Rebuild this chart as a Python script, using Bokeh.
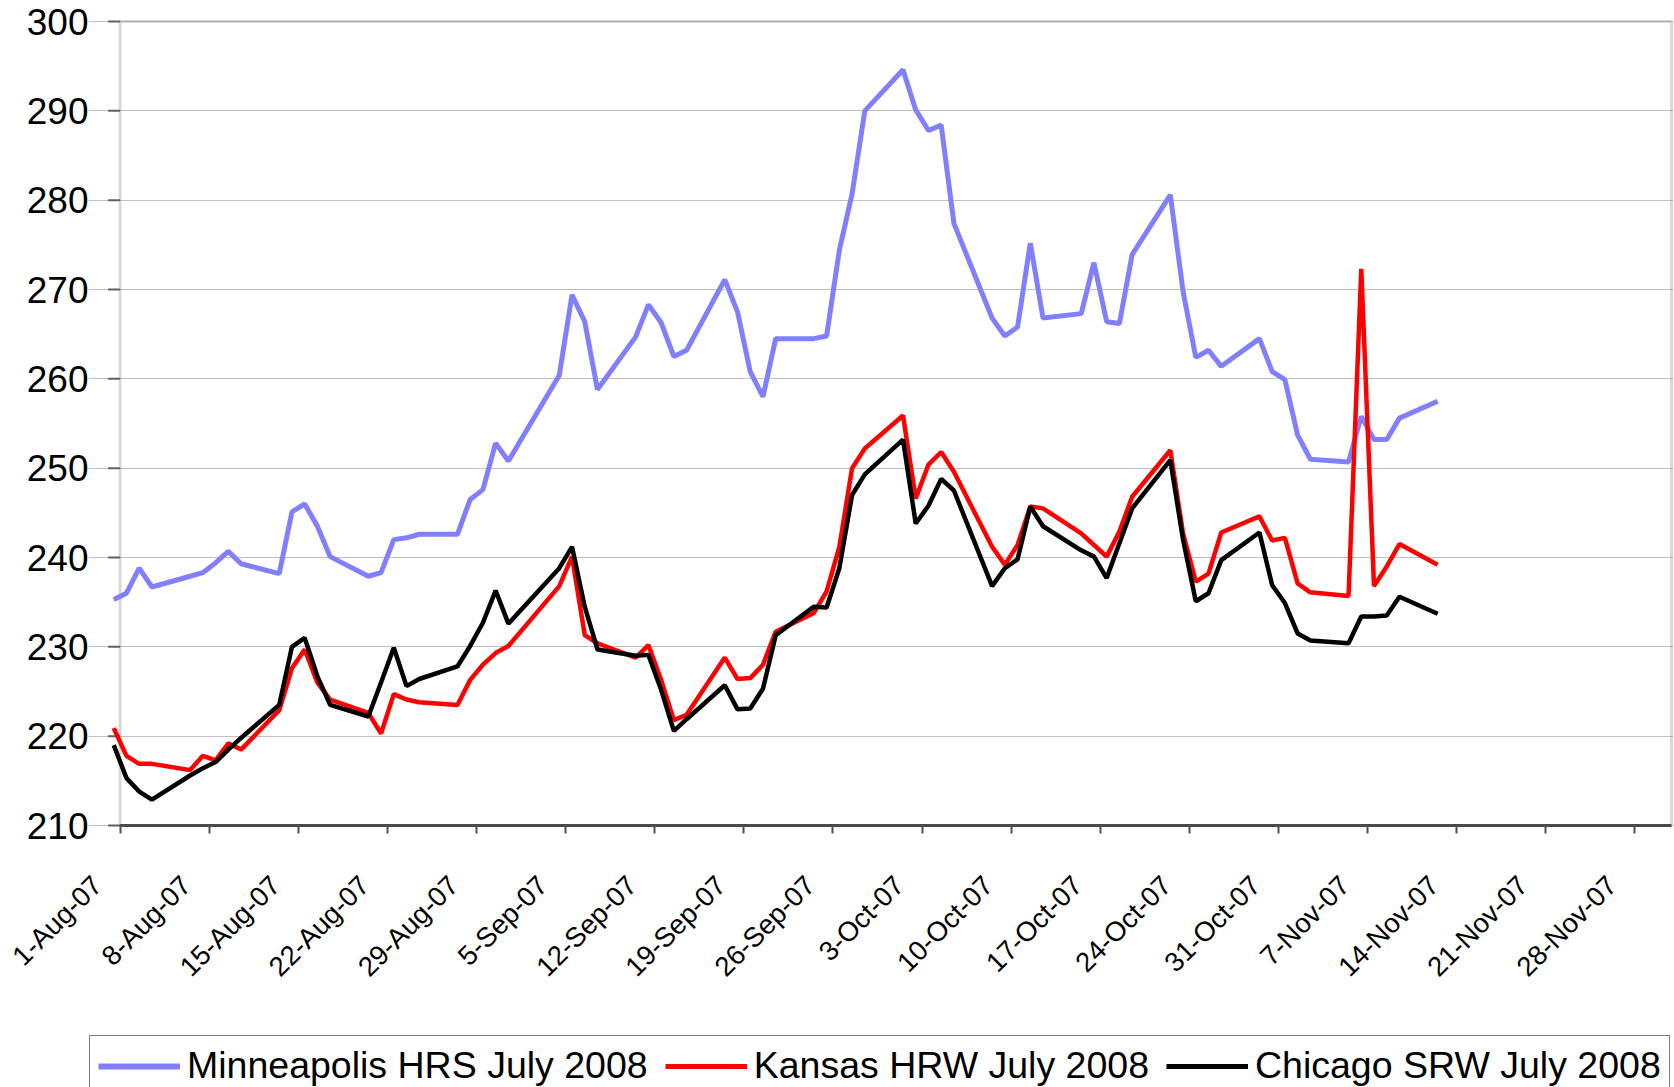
import math
import pandas as pd
from bokeh.plotting import figure
from bokeh.layouts import column
from bokeh.models import (ColumnDataSource, Range1d, FixedTicker, Legend, LegendItem,
                          DatetimeTickFormatter, BoxAnnotation)
from bokeh.embed import file_html
from bokeh.resources import INLINE

# ---------------- data ----------------
dates = [
    "2007-07-31", "2007-08-01", "2007-08-02", "2007-08-03",
    "2007-08-06", "2007-08-07", "2007-08-08", "2007-08-09", "2007-08-10",
    "2007-08-13", "2007-08-14", "2007-08-15", "2007-08-16", "2007-08-17",
    "2007-08-20", "2007-08-21", "2007-08-22", "2007-08-23", "2007-08-24",
    "2007-08-27", "2007-08-28", "2007-08-29", "2007-08-30", "2007-08-31",
    "2007-09-04", "2007-09-05", "2007-09-06", "2007-09-07",
    "2007-09-10", "2007-09-11", "2007-09-12", "2007-09-13", "2007-09-14",
    "2007-09-17", "2007-09-18", "2007-09-19", "2007-09-20", "2007-09-21",
    "2007-09-24", "2007-09-25", "2007-09-26", "2007-09-27", "2007-09-28",
    "2007-10-01", "2007-10-02", "2007-10-03", "2007-10-04", "2007-10-05",
    "2007-10-08", "2007-10-09", "2007-10-10", "2007-10-11", "2007-10-12",
    "2007-10-15", "2007-10-16", "2007-10-17", "2007-10-18", "2007-10-19",
    "2007-10-22", "2007-10-23", "2007-10-24", "2007-10-25", "2007-10-26",
    "2007-10-29", "2007-10-30", "2007-10-31", "2007-11-01", "2007-11-02",
    "2007-11-05", "2007-11-06", "2007-11-07", "2007-11-08", "2007-11-09",
    "2007-11-12",
]

minneapolis = [
    235.3, 236.0, 238.8, 236.7,
    237.9, 238.3, 239.4, 240.7, 239.3,
    238.2, 245.1, 246.0, 243.5, 240.1,
    237.9, 238.3, 242.0, 242.2, 242.6,
    242.6, 246.5, 247.6, 252.8, 250.8,
    260.4, 269.4, 266.4, 258.8,
    264.7, 268.3, 266.3, 262.5, 263.2,
    271.1, 267.5, 260.8, 258.0, 264.5,
    264.5, 264.8, 274.4, 280.7, 290.0,
    294.6, 290.1, 287.8, 288.4, 277.4,
    266.8, 264.8, 265.8, 275.2, 266.8,
    267.3, 273.0, 266.4, 266.2, 273.9,
    280.6, 269.8, 262.4, 263.2, 261.4,
    264.5, 260.8, 259.9, 253.7, 251.0,
    250.7, 255.8, 253.2, 253.2, 255.6,
    257.5,
]

kansas = [
    220.9, 217.8, 216.9, 216.9,
    216.2, 217.8, 217.3, 219.2, 218.5,
    222.9, 227.6, 229.7, 226.0, 224.1,
    222.6, 220.3, 224.7, 224.1, 223.8,
    223.5, 226.3, 228.0, 229.3, 230.1,
    236.8, 240.1, 231.3, 230.4,
    228.8, 230.2, 226.3, 221.8, 222.4,
    228.8, 226.4, 226.5, 228.0, 231.7,
    233.8, 236.2, 241.2, 250.0, 252.2,
    255.9, 246.6, 250.4, 251.8, 249.6,
    241.2, 239.2, 241.4, 245.7, 245.5,
    242.7, 241.4, 240.1, 242.9, 246.8,
    252.0, 242.7, 237.3, 238.2, 242.8,
    244.6, 241.9, 242.2, 237.1, 236.1,
    235.7, 272.3, 236.8, 239.0, 241.5,
    239.2,
]

chicago = [
    219.0, 215.3, 213.8, 212.9,
    215.6, 216.4, 217.1, 218.5, 219.8,
    223.5, 230.0, 231.0, 226.7, 223.5,
    222.2, 226.0, 229.9, 225.6, 226.4,
    227.8, 230.1, 232.7, 236.3, 232.6,
    238.8, 241.2, 234.5, 229.7,
    229.0, 229.1, 225.2, 220.6, 221.9,
    225.7, 223.0, 223.1, 225.3, 231.3,
    234.5, 234.4, 238.8, 247.0, 249.3,
    253.2, 243.8, 245.8, 248.8, 247.5,
    236.8, 238.8, 239.8, 245.7, 243.5,
    240.8, 240.1, 237.7, 241.6, 245.5,
    250.9, 242.0, 235.1, 236.0, 239.7,
    242.8, 236.9, 234.9, 231.5, 230.7,
    230.4, 233.4, 233.4, 233.5, 235.6,
    233.7,
]

series_names = ["Minneapolis HRS July 2008", "Kansas HRW July 2008", "Chicago SRW July 2008"]

tick_dates = [
    "2007-08-01", "2007-08-08", "2007-08-15", "2007-08-22", "2007-08-29",
    "2007-09-05", "2007-09-12", "2007-09-19", "2007-09-26",
    "2007-10-03", "2007-10-10", "2007-10-17", "2007-10-24", "2007-10-31",
    "2007-11-07", "2007-11-14", "2007-11-21", "2007-11-28",
]
tick_labels = [
    "1-Aug-07", "8-Aug-07", "15-Aug-07", "22-Aug-07", "29-Aug-07",
    "5-Sep-07", "12-Sep-07", "19-Sep-07", "26-Sep-07",
    "3-Oct-07", "10-Oct-07", "17-Oct-07", "24-Oct-07", "31-Oct-07",
    "7-Nov-07", "14-Nov-07", "21-Nov-07", "28-Nov-07",
]
y_ticks = [210, 220, 230, 240, 250, 260, 270, 280, 290, 300]

# ---------------- layout constants (pixels) ----------------
FONT = "Liberation Sans"
W = 1674
H_MAIN, H_LEG = 1030, 57
LEFT, TOP, RIGHT, BOTTOM = 88, 19, 1, 203
AXIS_X = 119.6          # pixel of the y axis line (1-Aug)
BOX_RIGHT = 1671.0      # pixel of right plot border
PX_PER_DAY = 12.73
PAD_Y = 2.0             # px between frame edge and 300 / 210 lines
LABEL_SHIFT_PX = 23.0   # x tick labels sit left of their tick

DAY_MS = 86400000.0
aug1_ms = pd.Timestamp(tick_dates[0]).value / 1e6
x_start_ms = aug1_ms - (AXIS_X - LEFT) / PX_PER_DAY * DAY_MS
x_end_ms = x_start_ms + (W - RIGHT - LEFT) / PX_PER_DAY * DAY_MS
box_right_ms = aug1_ms + (BOX_RIGHT - AXIS_X) / PX_PER_DAY * DAY_MS
frame_h = H_MAIN - TOP - BOTTOM
units_per_px = (y_ticks[-1] - y_ticks[0]) / (frame_h - 2 * PAD_Y)
y_start = y_ticks[0] - PAD_Y * units_per_px
y_end = y_ticks[-1] + PAD_Y * units_per_px

x = pd.to_datetime(dates) + pd.Timedelta(hours=12)
src = ColumnDataSource(dict(x=x, mpls=minneapolis, kan=kansas, chi=chicago))

p = figure(width=W, height=H_MAIN, x_axis_type="datetime",
           x_range=Range1d(x_start_ms, x_end_ms), y_range=Range1d(y_start, y_end),
           output_backend="svg", toolbar_location=None,
           min_border_left=LEFT, min_border_top=TOP,
           min_border_right=RIGHT, min_border_bottom=BOTTOM)
p.background_fill_color = "white"
p.border_fill_color = "white"
p.outline_line_color = None

# ---- x axis: labels at shifted positions, tick marks (minor) at the dates
tick_ms = [pd.Timestamp(d).value / 1e6 for d in tick_dates]
shift_ms = LABEL_SHIFT_PX / PX_PER_DAY * DAY_MS
label_ms = [t - shift_ms for t in tick_ms]
p.xaxis.ticker = FixedTicker(ticks=label_ms, minor_ticks=tick_ms)
p.xaxis.formatter = DatetimeTickFormatter(days="%d-%b-%y", months="%d-%b-%y", hours="%d-%b-%y")
p.xaxis.major_label_overrides = {t: lab for t, lab in zip(label_ms, tick_labels)}
p.xaxis.major_label_orientation = math.pi / 4
p.xaxis.major_label_text_font = FONT
p.xaxis.major_label_text_font_size = "27.5px"
p.xaxis.major_label_text_color = "black"
p.xaxis.major_label_standoff = 47
p.xaxis.axis_line_color = None
p.xaxis.major_tick_line_color = None
p.xaxis.major_tick_out = 0
p.xaxis.major_tick_in = 0
p.xaxis.minor_tick_line_color = "#505050"
p.xaxis.minor_tick_line_width = 2
p.xaxis.minor_tick_out = 6
p.xaxis.minor_tick_in = 2

# ---- y axis: labels only; line and tick marks drawn at 1-Aug
p.yaxis.ticker = FixedTicker(ticks=y_ticks)
p.yaxis.axis_line_color = None
p.yaxis.major_tick_line_color = None
p.yaxis.major_tick_out = 0
p.yaxis.major_tick_in = 0
p.yaxis.minor_tick_line_color = None
p.yaxis.major_label_text_font = FONT
p.yaxis.major_label_text_font_size = "37px"
p.yaxis.major_label_text_color = "black"
p.yaxis.major_label_standoff = 0

p.xgrid.grid_line_color = None
p.ygrid.grid_line_color = "#c0c0c0"
p.ygrid.grid_line_width = 1
p.ygrid.bounds = (aug1_ms, box_right_ms)

border = BoxAnnotation(left=aug1_ms, right=box_right_ms, bottom=y_ticks[0], top=y_ticks[-1],
                       fill_color=None, line_color="#808080", line_width=3, level="underlay")
p.add_layout(border)

# y tick marks and dark x-axis line
p.ray(x=[aug1_ms] * len(y_ticks), y=y_ticks, length=12, length_units="screen",
      angle=math.pi, line_color="#606060", line_width=2)
p.segment(x0=[aug1_ms], y0=[y_ticks[0]], x1=[box_right_ms], y1=[y_ticks[0]],
          line_color="#4a4a4a", line_width=3)

p.line("x", "mpls", source=src, line_color="#8080ff", line_width=5)
p.line("x", "kan", source=src, line_color="#ff0000", line_width=4.5)
p.line("x", "chi", source=src, line_color="#000000", line_width=4.5)

# ---------------- legend strip ----------------
p2 = figure(width=W, height=H_LEG, x_axis_location=None, y_axis_location=None,
            output_backend="svg", toolbar_location=None, min_border=0)
p2.outline_line_color = None
p2.background_fill_color = "white"
p2.border_fill_color = "white"
p2.grid.visible = False
l1 = p2.line("x", "mpls", source=src, line_color="#8080ff", line_width=6, visible=False)
l2 = p2.line("x", "kan", source=src, line_color="#ff0000", line_width=5, visible=False)
l3 = p2.line("x", "chi", source=src, line_color="#000000", line_width=5, visible=False)

# the strip's frame is aligned with the main frame (left edge at LEFT)
legend = Legend(items=[LegendItem(label=series_names[0], renderers=[l1]),
                       LegendItem(label=series_names[1], renderers=[l2]),
                       LegendItem(label=series_names[2], renderers=[l3])],
                orientation="horizontal", location=(89 - LEFT, -9),
                label_text_font=FONT, label_text_font_size="37.5px",
                label_text_color="black",
                glyph_width=82, glyph_height=20, label_standoff=7,
                spacing=17, padding=8, margin=0,
                border_line_color="black", border_line_width=1.2,
                background_fill_color="white", background_fill_alpha=1)
p2.add_layout(legend)

layout = column(p, p2, spacing=0)
open("out.html", "w").write(file_html(layout, INLINE))
